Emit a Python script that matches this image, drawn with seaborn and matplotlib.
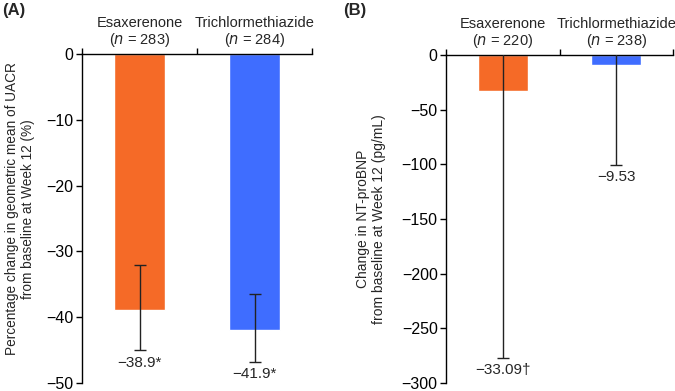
import matplotlib
matplotlib.use("Agg")
import matplotlib.pyplot as plt
import seaborn as sns
import pandas as pd
import numpy as np

# ---- data ----
groups = ["Esaxerenone", "Trichlormethiazide"]
colors = ["#F56A27", "#3F6DFF"]

# Panel A: UACR % change
n_a = [283, 284]
uacr = [-38.9, -41.9]
uacr_lo = [-45.0, -46.8]
uacr_hi = [-32.0, -36.4]
uacr_labels = ["\u221238.9*", "\u221241.9*"]
yticks_a = [0, -10, -20, -30, -40, -50]

# Panel B: NT-proBNP change
n_b = [220, 238]
bnp = [-33.09, -9.53]
bnp_lo = [-277.0, -100.5]
bnp_hi = [211.0, 81.5]
bnp_labels = ["\u221233.09\u2020", "\u22129.53"]
yticks_b = [0, -50, -100, -150, -200, -250, -300]

sns.set_theme(style="white")
plt.rcParams["font.family"] = ["Liberation Sans", "DejaVu Sans"]
plt.rcParams["axes.unicode_minus"] = True

fig = plt.figure(figsize=(6.75, 3.91), dpi=100)
axA = fig.add_axes([82/675, 1-383/391, (312-82)/675, (383-54)/391])
axB = fig.add_axes([446/675, 1-383/391, (673-446)/675, (383-55)/391])


def panel(ax, vals, lo, hi, ns, labels, ylim, yticks):
    df = pd.DataFrame({"group": groups, "value": vals})
    sns.barplot(data=df, x="group", y="value", hue="group", palette=colors,
                width=0.44, ax=ax, legend=False, errorbar=None, saturation=1)
    x = np.arange(len(vals))
    v = np.array(vals)
    yerr = np.vstack([v - np.array(lo), np.array(hi) - v])
    ax.errorbar(x, v, yerr=yerr, fmt="none", ecolor="#222222", elinewidth=1.0,
                capsize=4, capthick=1.0, clip_on=True, zorder=3)
    ax.set_xlim(-0.5, 1.5)
    ax.set_ylim(*ylim)
    ax.set_yticks(yticks)
    ax.set_yticklabels([("\u2212" + str(abs(t))) if t < 0 else str(t) for t in yticks],
                       fontsize=11.5)
    ax.set_xlabel("")
    # spines
    ax.spines["bottom"].set_visible(False)
    ax.spines["right"].set_visible(False)
    for s in ["top", "left"]:
        ax.spines[s].set_visible(True)
        ax.spines[s].set_color("black")
        ax.spines[s].set_linewidth(1.0)
    ax.xaxis.set_ticks_position("top")
    ax.set_xticks([-0.5, 0.5, 1.5])
    ax.set_xticklabels([])
    ax.tick_params(axis="x", direction="out", length=4, width=1, colors="black", top=True, bottom=False)
    ax.tick_params(axis="y", direction="out", length=4, width=1, colors="black", left=True, pad=2)
    # category labels
    for i, (g, n) in enumerate(zip(groups, ns)):
        ax.text(i, 1.015, f"{g}\n($n$ = {n})", transform=ax.get_xaxis_transform(),
                ha="center", va="bottom", fontsize=10.5, linespacing=1.1)
    # value labels
    for i, (l, t) in enumerate(zip(lo, labels)):
        ax.annotate(t, (i, l), xytext=(0, -4), textcoords="offset points",
                    ha="center", va="top", fontsize=11)


panel(axA, uacr, uacr_lo, uacr_hi, n_a, uacr_labels, (-50, 0), yticks_a)
panel(axB, bnp, bnp_lo, bnp_hi, n_b, bnp_labels, (-300, 0), yticks_b)

axA.set_ylabel("Percentage change in geometric mean of UACR\nfrom baseline at Week 12 (%)",
               fontsize=9.8, linespacing=1.25)
axA.yaxis.set_label_coords(-(82 - 20) / axA.bbox.width, 0.53)
axA.yaxis.label.set_va("center")
axB.set_ylabel("Change in NT-proBNP\nfrom baseline at Week 12 (pg/mL)",
               fontsize=10, linespacing=1.25)
axB.yaxis.set_label_coords(-(446 - 371) / axB.bbox.width, 0.5)
axB.yaxis.label.set_va("center")

fig.text(2/675, 1-11/391, "(A)", fontsize=12, fontweight="bold", va="center", ha="left")
fig.text(343/675, 1-11/391, "(B)", fontsize=12, fontweight="bold", va="center", ha="left")

fig.savefig("out.png", dpi=100)
